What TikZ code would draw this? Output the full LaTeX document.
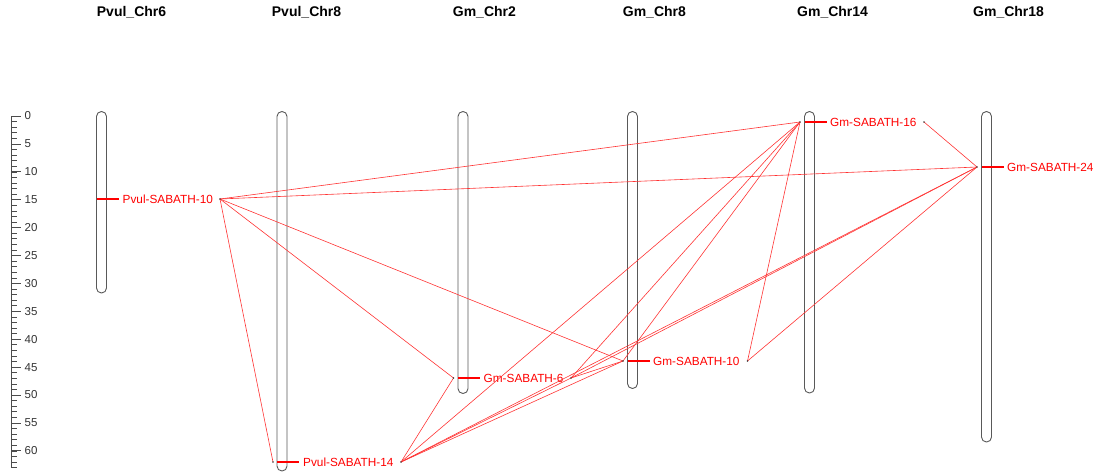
\documentclass[tikz,border=0pt]{standalone}
\usepackage{fontspec}
\setmainfont{Liberation Sans}
\definecolor{genered}{RGB}{255,0,0}
\begin{document}
\begin{tikzpicture}[x=1pt,y=-1pt,
  chrom/.style={draw=black!65, line width=0.9pt, rounded corners=4.9pt},
  title/.style={anchor=west, font=\fontsize{14}{16}\selectfont\bfseries, inner sep=0pt},
  genetick/.style={draw=genered, line width=2pt},
  genelabel/.style={anchor=west, text=genered, font=\fontsize{11.8}{14}\selectfont, inner sep=0pt},
  link/.style={draw=genered!80, line width=0.6pt},
  enddot/.style={fill=black!75, draw=none, circle, inner sep=0pt, minimum size=1.8pt},
  axlabel/.style={anchor=west, font=\fontsize{11.5}{13}\selectfont, text=black!80, inner sep=0pt}
]
\useasboundingbox (0,0) rectangle (1105,474);

% axis
\draw[black!70, line width=0.8pt] (11.7,116) -- (11.7,467.5);
\foreach \i in {0,...,63} {
  \draw[black!70, line width=0.6pt] (11.7,116+5.58*\i) -- (17,116+5.58*\i);
}
\foreach \i in {0,5,...,60} {
  \draw[black!70, line width=0.8pt] (11.7,116+5.58*\i) -- (20.5,116+5.58*\i);
  \node[axlabel] (ax\i) at (24.5,116+5.58*\i) {\i};
}

% titles
\node[title] (t1) at (96.7,12) {Pvul\_Chr6};
\node[title] (t2) at (271.7,12) {Pvul\_Chr8};
\node[title] (t3) at (452.7,12) {Gm\_Chr2};
\node[title] (t4) at (622.7,12) {Gm\_Chr8};
\node[title] (t5) at (797,12) {Gm\_Chr14};
\node[title] (t6) at (973,12) {Gm\_Chr18};

% chromosomes
\draw[chrom] (96.5,111.5) rectangle (106.5,293);
\draw[chrom] (277,111.5) rectangle (287,471);
\draw[chrom] (458,111.5) rectangle (468,393.5);
\draw[chrom] (627.5,111.5) rectangle (637.5,388.5);
\draw[chrom] (804.5,111.5) rectangle (814.5,393);
\draw[chrom] (981.5,111.5) rectangle (991.5,442);

% gene labels
\node[genelabel] (lp10) at (122.5,199) {Pvul-SABATH-10};
\node[genelabel] (lp14) at (303,462) {Pvul-SABATH-14};
\node[genelabel] (lg6) at (483.5,378) {Gm-SABATH-6};
\node[genelabel] (lg10) at (653,361) {Gm-SABATH-10};
\node[genelabel] (lg16) at (830,122) {Gm-SABATH-16};
\node[genelabel] (lg24) at (1007,167) {Gm-SABATH-24};

% link end points
\coordinate (p10R) at (220,199);
\coordinate (p14R) at (401,462);
\coordinate (p14L) at (273,462);
\coordinate (g6R) at (571,378);
\coordinate (g6L) at (453.5,378);
\coordinate (g10R) at (747.5,361);
\coordinate (g10L) at (623,361);
\coordinate (g16R) at (924,122);
\coordinate (g16L) at (800,122);
\coordinate (g24L) at (977,167);

% links
\draw[link] (p10R) -- (g16L);
\draw[link] (p10R) -- (g24L);
\draw[link] (p10R) -- (g6L);
\draw[link] (p10R) -- (g10L);
\draw[link] (p10R) -- (p14L);
\draw[link] (p14R) -- (g6L);
\draw[link] (p14R) -- (g16L);
\draw[link] (p14R) -- (g24L);
\draw[link] (p14R) -- (g10L);
\draw[link] (p14R) -- (g6R);
\draw[link] (g6R) -- (g10L);
\draw[link] (g6R) -- (g16L);
\draw[link] (g6R) -- (g24L);
\draw[link] (g10R) -- (g16L);
\draw[link] (g10R) -- (g24L);
\draw[link] (g10L) -- (g16L);
\draw[link] (g16R) -- (g24L);

% gene ticks (on top)
\draw[genetick] (96.5,199) -- (118.5,199);
\draw[genetick] (277,462) -- (299,462);
\draw[genetick] (458,378) -- (480,378);
\draw[genetick] (627.5,361) -- (649.5,361);
\draw[genetick] (804.5,122) -- (826.5,122);
\draw[genetick] (981.5,167) -- (1003.5,167);

\foreach \c in {p10R,p14R,p14L,g6R,g6L,g10R,g10L,g16R,g16L,g24L}
  \node[enddot] at (\c) {};
\end{tikzpicture}
\end{document}
